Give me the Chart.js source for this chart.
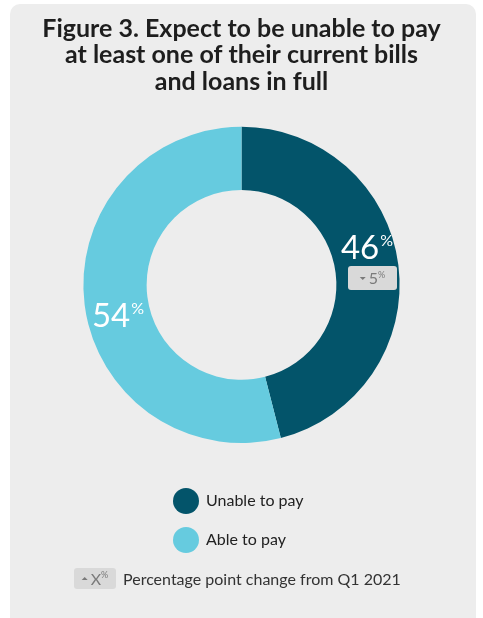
<!DOCTYPE html>
<html lang="en">
  <head>
    <title>Unable to pay bills</title>
    <meta charset="utf-8">
    <script type="text/javascript" src="https://cdn.jsdelivr.net/npm/chart.js@4/dist/chart.umd.min.js"></script>
    <style>
      html, body { margin: 0; padding: 0; background: #ffffff; }
      #chart_bills { display: block; }
    </style>
  </head>
  <body>
    <canvas id="chart_bills" width="483" height="618"></canvas>

    <script type="text/javascript">

      const titleLines = ["Figure 3. Expect to be unable to pay",
                          "at least one of their current bills",
                          "and loans in full"];
      const categories = ["Unable to pay", "Able to pay"];
      const shares     = [46, 54];
      // percentage point change from Q1 2021 (null = no badge)
      const changes    = [-5, null];
      const sliceColours = ["#03546a", "#66cbdf"];
      const noteText   = "Percentage point change from Q1 2021";

      const FONT = "Lato, 'DejaVu Sans', sans-serif";

      // rounded grey badge with a small arrow and a value with a raised %
      function drawBadge(ctx, x, y, w, h, up, value)
      {
        ctx.save();
        ctx.fillStyle = "#d9d9d9";
        ctx.beginPath();
        ctx.roundRect(x, y, w, h, 3);
        ctx.fill();

        ctx.fillStyle = "#7a7a7a";
        ctx.font = "16px " + FONT;
        let vw = ctx.measureText(value).width;
        ctx.font = "9px " + FONT;
        let pw = ctx.measureText("%").width;
        let total = 6 + 3 + vw + pw;
        let sx = x + (w - total) / 2;
        let cy = y + h / 2;

        // arrow
        ctx.beginPath();
        if (up) {
          ctx.moveTo(sx, cy + 1.5); ctx.lineTo(sx + 6, cy + 1.5); ctx.lineTo(sx + 3, cy - 1.5);
        } else {
          ctx.moveTo(sx, cy - 1); ctx.lineTo(sx + 6, cy - 1); ctx.lineTo(sx + 3, cy + 2);
        }
        ctx.fill();

        ctx.textBaseline = "alphabetic";
        ctx.textAlign = "left";
        ctx.font = "16px " + FONT;
        ctx.fillText(value, sx + 9, cy + 6);
        ctx.font = "9px " + FONT;
        ctx.fillText("%", sx + 9 + vw, cy - 0.5);
        ctx.restore();
      }

      const panelPlugin = {
        id: "panel",
        beforeDraw(chart) {
          let ctx = chart.ctx;
          ctx.save();
          ctx.fillStyle = "#ededed";
          ctx.beginPath();
          ctx.roundRect(10, 4, 466, 640, 10);
          ctx.fill();
          ctx.restore();
        }
      };

      // value labels on the slices, legend and note under the ring
      const labelPlugin = {
        id: "sliceLabels",
        afterDraw(chart) {
          let ctx = chart.ctx;
          let meta = chart.getDatasetMeta(0);
          let offsets = [{dx: 0, dy: -22}, {dx: 2, dy: 14}];

          ctx.save();
          meta.data.forEach(function(arc, i) {
            let p = arc.tooltipPosition();
            let x = p.x + offsets[i].dx;
            let y = p.y + offsets[i].dy;
            let num = String(shares[i]);

            ctx.font = "33px " + FONT;
            let nw = ctx.measureText(num).width;
            ctx.font = "16px " + FONT;
            let pw = ctx.measureText("%").width;
            let left = x - (nw + pw + 1) / 2;

            ctx.fillStyle = "#ffffff";
            ctx.textAlign = "left";
            ctx.textBaseline = "alphabetic";
            ctx.font = "33px " + FONT;
            ctx.fillText(num, left, y + 12);
            ctx.font = "16px " + FONT;
            ctx.fillText("%", left + nw + 1, y - 1);

            if (changes[i] !== null) {
              drawBadge(ctx, x - 19, y + 19, 49, 24, changes[i] > 0, String(Math.abs(changes[i])));
            }
          });

          // legend
          let lx = 186;
          let ly = [501, 540];
          categories.forEach(function(name, i) {
            ctx.fillStyle = sliceColours[i];
            ctx.beginPath();
            ctx.arc(lx, ly[i], 13, 0, Math.PI * 2);
            ctx.fill();
            ctx.fillStyle = "#222222";
            ctx.font = "16px " + FONT;
            ctx.textAlign = "left";
            ctx.textBaseline = "middle";
            ctx.fillText(name, 206, ly[i]);
          });

          // note
          drawBadge(ctx, 74, 568, 42, 21, true, "X");
          ctx.fillStyle = "#333333";
          ctx.font = "16px " + FONT;
          ctx.textAlign = "left";
          ctx.textBaseline = "middle";
          ctx.fillText(noteText, 123, 580);
          ctx.restore();
        }
      };

      chart = new Chart("chart_bills", {
        type: "doughnut",
        data: {
          labels: categories,
          datasets: [{
            data: shares,
            backgroundColor: sliceColours,
            borderWidth: 0,
            hoverOffset: 0
          }]
        },
        options: {
          responsive: false,
          animation: false,
          cutout: "60%",
          layout: { padding: { top: 0, bottom: 175, left: 0, right: 0 } },
          plugins: {
            legend: { display: false },
            tooltip: { enabled: false },
            title: {
              display: true,
              text: titleLines,
              color: "#1e1e1e",
              font: { family: FONT, size: 25, weight: "bold", lineHeight: 1.05 },
              padding: { top: 16, bottom: 32 }
            }
          }
        },
        plugins: [panelPlugin, labelPlugin]
      });

    </script>
  </body>
</html>
